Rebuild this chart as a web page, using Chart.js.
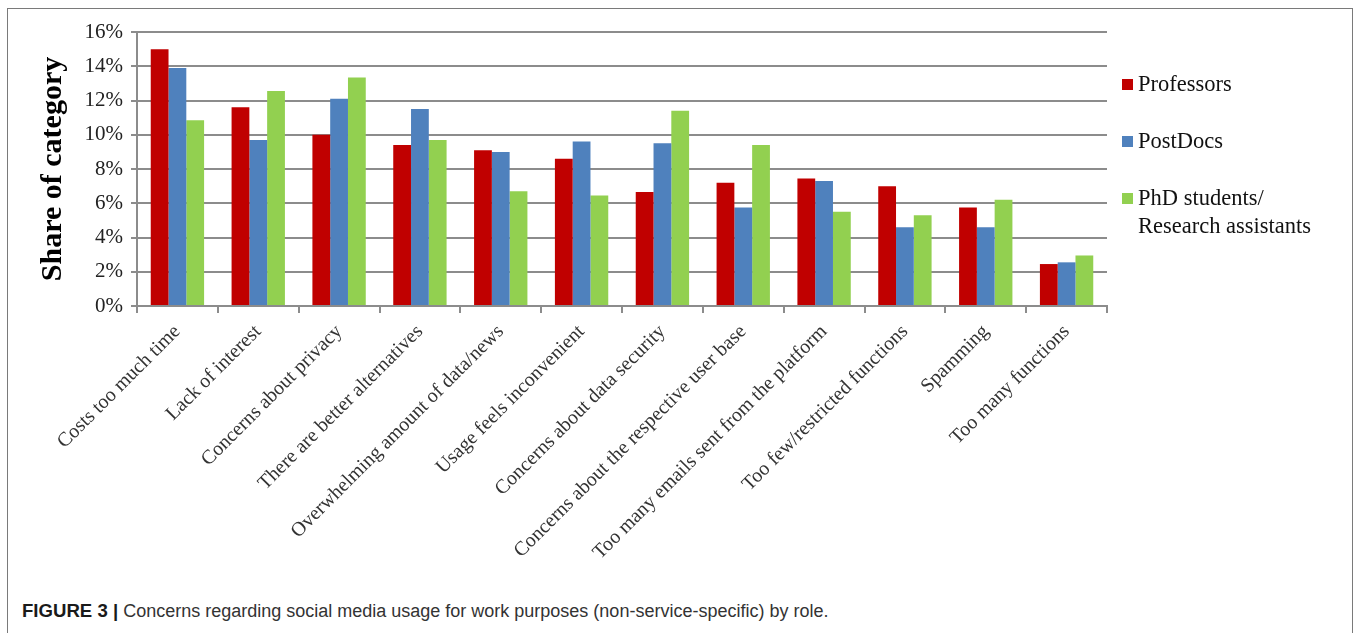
<!DOCTYPE html>
<html>
<head>
<meta charset="utf-8">
<script src="https://cdn.jsdelivr.net/npm/chart.js@4.4.1/dist/chart.umd.min.js"></script>
<style>
  html, body { margin: 0; padding: 0; background: #fff; overflow: hidden; }
  body { width: 1357px; height: 633px; position: relative; }
  .frame {
    position: absolute; left: 7px; top: 8px; width: 1346px; height: 660px;
    border: 1.5px solid #7a7a7a; box-sizing: border-box;
  }
  .chart-box { position: absolute; left: 8px; top: 9px; width: 1346px; height: 580px; }
  .legend { position: absolute; left: 1122px; top: 0; font-family: "Liberation Serif", "Times New Roman", serif; font-size: 22.5px; color: #111; }
  .legend .item { position: absolute; left: 0; white-space: nowrap; }
  .legend .swatch { position: absolute; left: 0; width: 11px; height: 11px; }
  .legend .text { position: absolute; left: 16px; line-height: 28px; }
  .caption {
    position: absolute; left: 22px; top: 600px; white-space: nowrap;
    font-family: "Liberation Sans", Arial, sans-serif; font-size: 18px; color: #333;
  }
  .caption b { color: #1a1a1a; font-size: 18.6px; }
</style>
</head>
<body>
<div class="frame"></div>
<div class="chart-box"><canvas id="concernsChart"></canvas></div>
<div class="legend" id="legend"></div>
<div class="caption"><b>FIGURE 3 |</b> Concerns regarding social media usage for work purposes (non-service-specific) by role.</div>

<script>
// ── DATA ──
const categories = [
  'Costs too much time',
  'Lack of interest',
  'Concerns about privacy',
  'There are better alternatives',
  'Overwhelming amount of data/news',
  'Usage feels inconvenient',
  'Concerns about data security',
  'Concerns about the respective user base',
  'Too many emails sent from the platform',
  'Too few/restricted functions',
  'Spamming',
  'Too many functions'
];

// share of category, in %
const professors  = [15.0, 11.6, 10.0, 9.4, 9.1, 8.6, 6.65, 7.2, 7.45, 7.0, 5.75, 2.45];
const postDocs    = [13.9, 9.7, 12.1, 11.5, 9.0, 9.6, 9.5, 5.75, 7.3, 4.6, 4.6, 2.55];
const phdStudents = [10.85, 12.55, 13.35, 9.7, 6.7, 6.45, 11.4, 9.4, 5.5, 5.3, 6.2, 2.95];

const seriesLabels = ['Professors', 'PostDocs', 'PhD students/\nResearch assistants'];
const seriesColors = ['#C00000', '#4F81BD', '#92D050'];

const yTicks = [0, 2, 4, 6, 8, 10, 12, 14, 16];

const serif = '"Liberation Serif", "Times New Roman", serif';
const gridGray = '#8c8c8c';

// ── CHART ──
function initConcernsChart() {
  const ctx = document.getElementById('concernsChart');
  if (!ctx) return;

  const values = [professors, postDocs, phdStudents];

  new Chart(ctx, {
    type: 'bar',
    data: {
      labels: categories,
      datasets: values.map((v, i) => ({
        label: seriesLabels[i].replace('\n', ' '),
        data: v,
        backgroundColor: seriesColors[i],
        borderWidth: 0,
        barPercentage: 1.0,
        categoryPercentage: 0.66
      }))
    },
    options: {
      responsive: true, maintainAspectRatio: false,
      animation: false,
      layout: { padding: { top: 23, right: 247, left: 0, bottom: 0 } },
      plugins: { legend: { display: false }, tooltip: { enabled: false } },
      scales: {
        x: {
          afterFit: s => { s.height = 283; },
          grid: { drawOnChartArea: false, drawTicks: true, tickLength: 7, color: gridGray, lineWidth: 2, offset: true },
          border: { color: gridGray, width: 2 },
          ticks: {
            autoSkip: false, maxRotation: 45, minRotation: 45, padding: 7,
            color: '#333', font: { family: serif, size: 20 }
          }
        },
        y: {
          min: 0, max: 16,
          afterFit: s => { s.width = 129; },
          afterBuildTicks: s => { s.ticks = yTicks.map(v => ({ value: v })); },
          grid: { color: gridGray, lineWidth: 2, tickLength: 6 },
          border: { color: gridGray, width: 2 },
          ticks: { padding: 8, color: '#222', font: { family: serif, size: 21 }, callback: v => v + '%' },
          title: {
            display: true, text: 'Share of category', color: '#000',
            font: { family: serif, size: 30, weight: 'bold' },
            padding: { top: 27, bottom: 0 }
          }
        }
      }
    }
  });
}

// ── LEGEND ──
function renderLegend() {
  const box = document.getElementById('legend');
  const tops = [70, 127, 184];
  box.innerHTML = seriesLabels.map((label, i) => `
    <div class="item" style="top:${tops[i]}px">
      <div class="swatch" style="top:9px;background:${seriesColors[i]}"></div>
      <div class="text">${label.replace('\n', '<br>')}</div>
    </div>
  `).join('');
}

document.addEventListener('DOMContentLoaded', () => {
  initConcernsChart();
  renderLegend();
});
</script>
</body>
</html>
